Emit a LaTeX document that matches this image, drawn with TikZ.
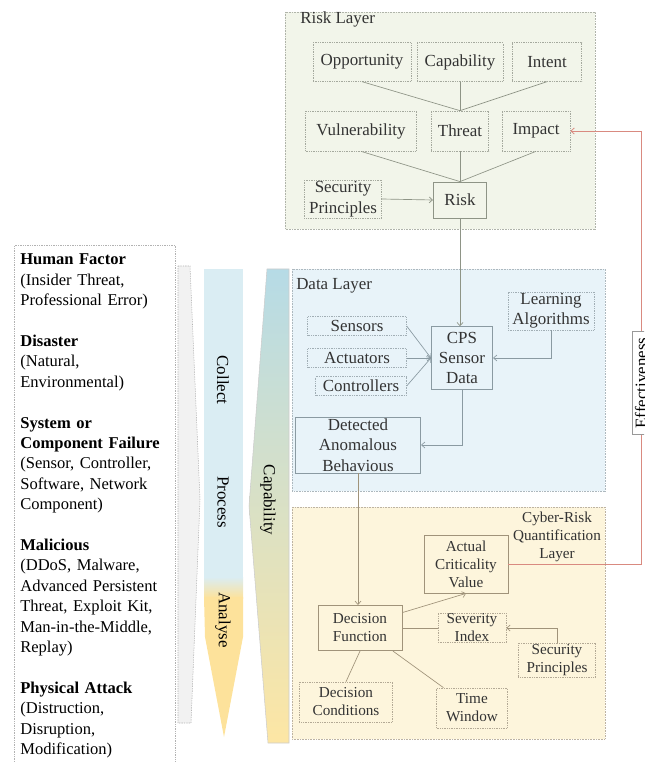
\documentclass[tikz,border=0pt]{standalone}
\usepackage{fontspec}
\setmainfont{Liberation Serif}
\usetikzlibrary{arrows.meta,calc}
\definecolor{riskfill}{HTML}{F2F5EA}
\definecolor{datafill}{HTML}{E8F3F9}
\definecolor{quantfill}{HTML}{FDF5DC}
\definecolor{riskedge}{HTML}{8E9486}
\definecolor{dataedge}{HTML}{8A9AA2}
\definecolor{quantedge}{HTML}{A0937A}
\definecolor{boxtext}{HTML}{333333}
\definecolor{feedred}{HTML}{D98A80}
\definecolor{cpablue}{HTML}{DAEDF3}
\definecolor{cpayellow}{HTML}{FDE29B}
\definecolor{capblue}{HTML}{B6DBE6}
\definecolor{capmid}{HTML}{E7ECDF}
\definecolor{capyellow}{HTML}{FDE6A4}
\tikzset{
  every node/.style={font=\fontsize{12.7}{15.3}\selectfont, text=boxtext}
}

\begin{document}
\begin{tikzpicture}[x=0.75pt,y=-0.75pt]
  \tikzset{
    layer/.style={dash pattern=on 0.5pt off 0.7pt, line width=0.5pt},
    factor/.style={draw=#1!80, dash pattern=on 0.5pt off 0.8pt, line width=0.5pt,
      inner sep=1pt, align=center},
    factor/.default=riskedge,
    core/.style={draw=#1, line width=0.6pt, inner sep=1pt, align=center},
    core/.default=riskedge,
    small/.style={font=\fontsize{11.4}{13.5}\selectfont},
    link/.style={draw=#1, line width=0.5pt},
    link/.default=riskedge,
    arrowlink/.style={link=#1, -{Straight Barb[length=2.5pt,width=4.5pt]}},
    arrowlink/.default=riskedge,
    feedback/.style={draw=feedred, line width=0.6pt,
      -{Straight Barb[length=2.5pt,width=4.5pt]}},
    stage/.style={rotate=-90, text=black, inner sep=0pt}
  }
  \path[use as bounding box, clip] (0,0) rectangle (644,762);

  % Layer backgrounds
  \draw[layer, draw=riskedge!70, fill=riskfill] (285,12) rectangle (595,229);
  \draw[layer, draw=dataedge!70, fill=datafill] (292,269) rectangle (605,491);
  \draw[layer, draw=quantedge!70, fill=quantfill] (292,507) rectangle (605,739);
  \node[anchor=west, inner sep=0pt] (risklbl) at (300,19) {Risk Layer};
  \node[anchor=west, inner sep=0pt] (datalbl) at (296,286) {Data Layer};
  \node[small, align=center] (quantlbl) at (557,537) {Cyber-Risk\\Quantification\\Layer};

  % Threat sources on the left
  \node[draw=gray!60, dash pattern=on 0.5pt off 0.8pt, line width=0.5pt, fill=white,
    anchor=north west, text width=111.75pt, inner xsep=4.5pt, inner ysep=6.5pt,
    align=left, text=black, font=\fontsize{12.4}{15.3}\selectfont] (sources) at (14,245) {%
    \textbf{Human Factor}\\(Insider Threat,\\Professional Error)\\[15.3pt]
    \textbf{Disaster}\\(Natural,\\Environmental)\\[15.3pt]
    \textbf{System or}\\\textbf{Component Failure}\\(Sensor, Controller,\\Software, Network\\Component)\\[15.3pt]
    \textbf{Malicious}\\(DDoS, Malware,\\Advanced Persistent\\Threat, Exploit Kit,\\Man-in-the-Middle,\\Replay)\\[15.3pt]
    \textbf{Physical Attack}\\(Distruction,\\Disruption,\\Modification)};

  % Process bars
  \draw[dash pattern=on 1pt off 0.8pt, draw=gray!60, line width=0.4pt, fill=gray!10]
    (178,266) -- (190,266) -- (200,500) -- (191,723) -- (178,723) -- cycle;
  \fill[cpablue] (204,269) rectangle (243,578);
  \shade[top color=cpablue, bottom color=cpayellow] (204,577) rectangle (243,598);
  \fill[cpayellow] (204,597) -- (243,597) -- (243,637) -- (224,737) -- (205,637) -- cycle;
  \shadedraw[top color=capblue, middle color=capmid, bottom color=capyellow,
    draw=gray!40, line width=0.4pt]
    (267,269) -- (289,269) -- (289,743) -- (268,743) -- (249,506) -- cycle;
  \node[stage] (collect) at (223,380) {Collect};
  \node[stage] (process) at (223,502) {Process};
  \node[stage] (analyse) at (223,620) {Analyse};
  \node[stage] (capab) at (268,500) {Capability};

  % Risk layer nodes
  \node[factor, minimum width=73.5pt, minimum height=29pt] (opp) at (362,62) {Opportunity};
  \node[factor, minimum width=64.5pt, minimum height=29pt] (capa) at (460,62) {Capability};
  \node[factor, minimum width=52pt, minimum height=29pt] (intent) at (547,62) {Intent};
  \node[factor, minimum width=83pt, minimum height=30pt] (vuln) at (361,131) {Vulnerability};
  \node[factor, minimum width=43pt, minimum height=30pt] (threat) at (460,131) {Threat};
  \node[factor, minimum width=51pt, minimum height=30pt] (impact) at (536,131) {Impact};
  \node[factor, minimum width=58pt, minimum height=28pt] (secrisk) at (343,199) {Security\\Principles};
  \node[core, minimum width=40pt, minimum height=27pt] (risk) at (460,200) {Risk};

  \draw[link] (opp.south) -- (threat.north);
  \draw[link] (capa.south) -- (threat.north);
  \draw[link] (intent.south) -- (threat.north);
  \draw[link] (vuln.south) -- (risk.north);
  \draw[link] (threat.south) -- (risk.north);
  \draw[link] (impact.south) -- (risk.north);
  \draw[arrowlink] (secrisk.east) -- (risk.west);

  % Data layer nodes
  \node[factor=dataedge, minimum width=64.5pt, minimum height=28.5pt] (learn) at (551,311) {Learning\\Algorithms};
  \node[factor=dataedge, minimum width=74pt, minimum height=14pt] (sens) at (357,326) {Sensors};
  \node[factor=dataedge, minimum width=74pt, minimum height=14pt] (actu) at (357,358) {Actuators};
  \node[factor=dataedge, minimum width=68pt, minimum height=14pt] (ctrl) at (361,386) {Controllers};
  \node[core=dataedge, minimum width=46pt, minimum height=47pt] (cps) at (462,358) {CPS\\Sensor\\Data};
  \node[core=dataedge, minimum width=94pt, minimum height=42pt] (anom) at (358,445) {Detected\\Anomalous\\Behavious};

  \draw[arrowlink] (risk.south) -- (risk.south |- cps.north);
  \draw[arrowlink=dataedge] (sens.east) -- (cps.west);
  \draw[arrowlink=dataedge] (actu.east) -- (cps.west);
  \draw[arrowlink=dataedge] (ctrl.east) -- (cps.west);
  \draw[arrowlink=dataedge] (learn.south) |- (cps.east);
  \draw[arrowlink=dataedge] (cps.south) |- (anom.east);

  % Cyber-risk quantification layer nodes
  \node[core=quantedge, small, minimum width=63pt, minimum height=43.5pt] (actual) at (466,564) {Actual\\Criticality\\Value};
  \node[core=quantedge, small, minimum width=63pt, minimum height=34pt] (decide) at (360,628) {Decision\\Function};
  \node[factor=quantedge, small, minimum width=51pt, minimum height=22pt, inner sep=0pt] (sever) at (472,628) {Severity\\Index};
  \node[factor=quantedge, small, minimum width=58pt, minimum height=25pt] (secquant) at (557,660) {Security\\Principles};
  \node[factor=quantedge, small, minimum width=70pt, minimum height=30pt] (cond) at (346,702) {Decision\\Conditions};
  \node[factor=quantedge, small, minimum width=53pt, minimum height=30pt] (twin) at (472,708) {Time\\Window};

  \draw[arrowlink=quantedge] (anom.south) -- (anom.south |- decide.north);
  \draw[arrowlink=quantedge] (decide.20) -- (actual.south);
  \draw[link=quantedge] (decide.east) -- (sever.west);
  \draw[arrowlink=quantedge] (secquant.north) |- (sever.east);
  \draw[link=quantedge] (decide.south) -- (cond.north);
  \draw[link=quantedge] (decide.-35) -- ($(twin.north west)!0.1!(twin.north east)$);

  % Feedback loop
  \coordinate (fbside) at (641,0);
  \draw[feedback] (actual.east) -- (actual.east -| fbside) -- (impact.east -| fbside) -- (impact.east);
  \node[draw=gray!80, fill=white, rotate=90, inner xsep=4.5pt, inner ysep=2.2pt, text=black] (effect) at (641,383) {Effectiveness};
\end{tikzpicture}
\end{document}
